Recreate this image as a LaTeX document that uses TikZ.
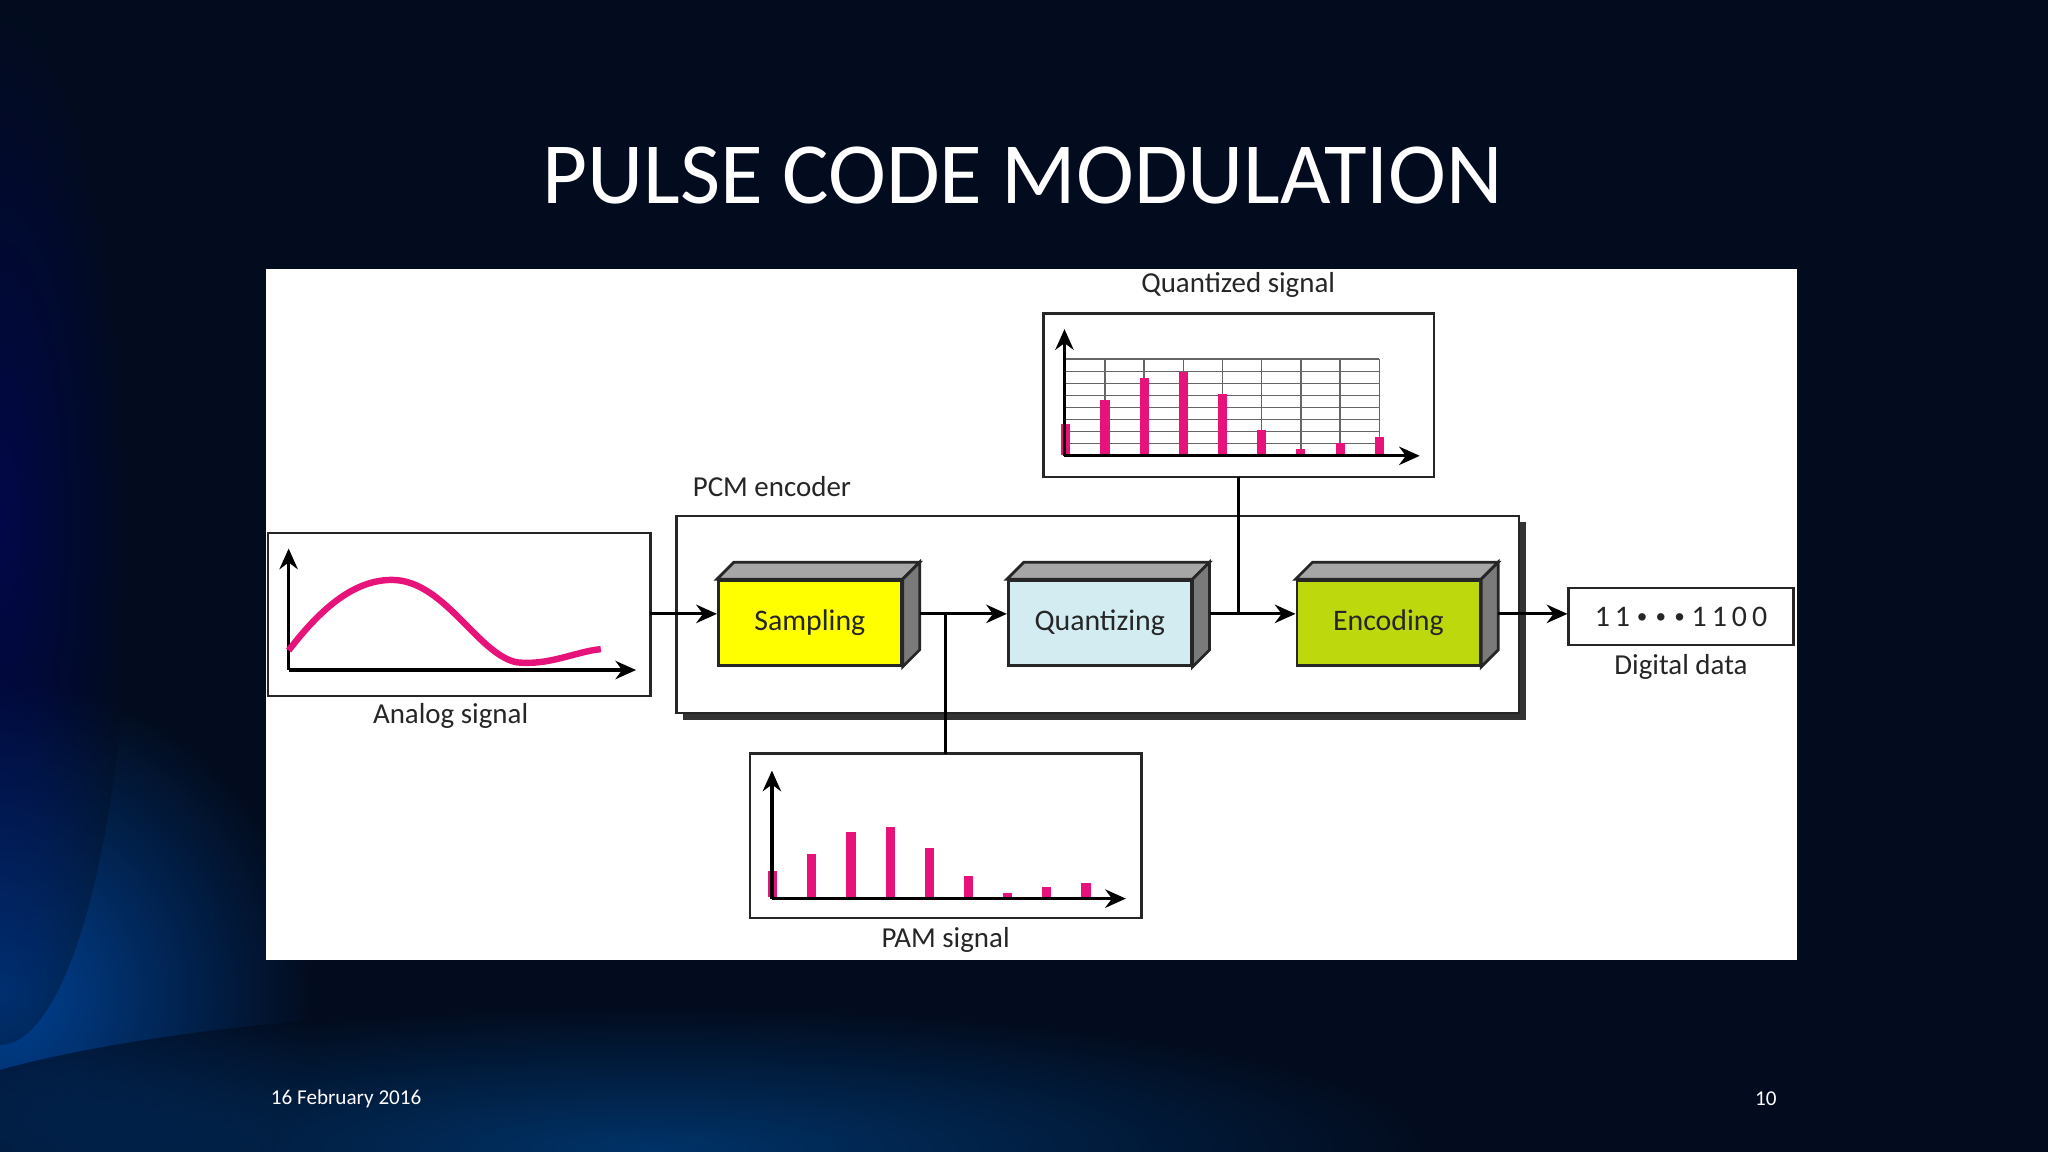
\documentclass[tikz,border=0pt]{standalone}
\usepackage{fontspec}
\setmainfont{Carlito}
\usetikzlibrary{arrows.meta,calc}
\definecolor{bg}{HTML}{020C1E}
\definecolor{pinkbar}{HTML}{E8137A}
\definecolor{yel}{HTML}{FFFF00}
\definecolor{lblue}{HTML}{D3ECF2}
\definecolor{lgreen}{HTML}{BDD80C}
\definecolor{topg}{HTML}{A6A6A6}
\definecolor{sideg}{HTML}{7A7A7A}
\tikzset{
  lbl/.style={font=\fontsize{6.3}{7}\selectfont, text=black!85},
  frame/.style={draw=black!85, line width=0.5pt},
  arr/.style={-{Stealth[length=4.5pt,width=4pt]}, line width=0.7pt},
  ln/.style={line width=0.6pt},
  blk/.style={draw=black!85, line width=0.6pt, minimum width=1.4cm, minimum height=0.65cm, font=\fontsize{6.5}{7}\selectfont, text=black!85},
  bar/.style={fill=pinkbar, draw=none},
}
\newcommand{\depthbox}[1]{%
  \draw[fill=topg, line width=0.6pt, draw=black!85] (#1.north west) -- ++(13,-13) -- ($(#1.north east)+(13,-13)$) -- (#1.north east) -- cycle;
  \draw[fill=sideg, line width=0.6pt, draw=black!85] (#1.north east) -- ++(13,-13) -- ($(#1.south east)+(13,-13)$) -- (#1.south east) -- cycle;}
\begin{document}
\begin{tikzpicture}[x=0.01cm,y=-0.01cm]
\useasboundingbox (0,0) rectangle (1568,882);
\fill[bg] (0,0) rectangle (1568,882);
\begin{scope}
\clip (0,0) rectangle (1568,882);
\shade[inner color=blue!55!cyan!70!black, outer color=bg, opacity=0.8] (0,760) ellipse (240 and 240);
\shade[inner color=blue!50!cyan!60!black, outer color=bg, opacity=0.6] (500,880) ellipse (600 and 110);
\shade[inner color=blue!60!black, outer color=bg, opacity=0.35] (0,400) ellipse (100 and 400);
\end{scope}
\node[text=white, font=\fontsize{19}{22}\selectfont] (title) at (783,134) {PULSE CODE MODULATION};
\node[text=white, font=\fontsize{4.6}{5}\selectfont] (date) at (265,841) {16 February 2016};
\node[text=white, font=\fontsize{4.6}{5}\selectfont] (pg) at (1352,841) {10};
\fill[white] (204,206) rectangle (1376,735);

% PCM encoder
\fill[black!80] (523,400) rectangle (1168,551);
\draw[frame, fill=white] (518,395) rectangle (1163,546);
\node[lbl, anchor=south west] (pcml) at (518,393) {PCM encoder};

% blocks
\node[blk, fill=yel] (samp) at (620,477) {Sampling};
\node[blk, fill=lblue] (quant) at (842,477) {Quantizing};
\node[blk, fill=lgreen] (enc) at (1063,477) {Encoding};
\depthbox{samp}\depthbox{quant}\depthbox{enc}

% analog box
\draw[frame] (205,408) rectangle (498,533);
\coordinate (anaR) at (498,470);
\draw[arr] (221,513) -- (221,420);
\draw[arr] (221,513) -- (487,513);
\draw[pinkbar, line width=1.4pt] (221,498) .. controls (250,460) and (275,444) .. (300,444) .. controls (340,444) and (365,500) .. (395,507) .. controls (420,510) and (440,499) .. (460,497);
\node[lbl] (analbl) at (345,548) {Analog signal};

% quantized box
\draw[frame] (799,240) rectangle (1098,365);
\coordinate (qbot) at (948,365);
\node[lbl] (qlbl) at (948,218) {Quantized signal};
\foreach \i in {0,...,8} \draw[black!60, line width=0.3pt] (815,275+\i*9.2) -- (1056,275+\i*9.2);
\foreach \i in {1,...,8} \draw[black!60, line width=0.3pt] (816+\i*30,275) -- (816+\i*30,348);
\foreach \h [count=\i from 0] in {2.5,4.5,6.4,6.9,5.0,2.0,0.5,1.0,1.5}
  \fill[bar] (812.5+\i*30,348) rectangle (819.5+\i*30,348-\h*9.2);
\draw[arr] (815,349) -- (815,252);
\draw[arr] (815,349) -- (1087,349);

% PAM box
\draw[frame] (574,577) rectangle (874,703);
\coordinate (ptop) at (724,577);
\node[lbl] (plbl) at (724,720) {PAM signal};
\foreach \h [count=\i from 0] in {20,33,50,54,38,16,3,8,11}
  \fill[bar] (588+\i*30,687) rectangle (595+\i*30,687-\h);
\draw[arr] (591,688) -- (591,590);
\draw[arr] (591,688) -- (862,688);

% digital data
\node[draw=black!85, line width=0.5pt, minimum width=1.72cm, minimum height=0.44cm, font=\fontsize{6.5}{7}\selectfont, text=black!85] (dig) at (1287,472) {1\,1 \raisebox{0.3ex}{\scalebox{0.6}{$\bullet\,\bullet\,\bullet$}} 1\,1\,0\,0};
\node[lbl] (diglbl) at (1287,511) {Digital data};

% connectors
\coordinate (s1) at ($(samp.east)+(13,-7)$);
\coordinate (q1) at ($(quant.east)+(13,-7)$);
\coordinate (e1) at ($(enc.east)+(13,-7)$);
\draw[arr] (anaR) -- (samp.west |- anaR);
\draw[arr] (s1) -- (quant.west |- s1);
\draw[arr] (q1) -- (enc.west |- q1);
\draw[arr] (e1) -- (dig.west |- e1);
\draw[ln] (724,470) -- (ptop);
\draw[ln] (948,470) -- (qbot);
\end{tikzpicture}
\end{document}
